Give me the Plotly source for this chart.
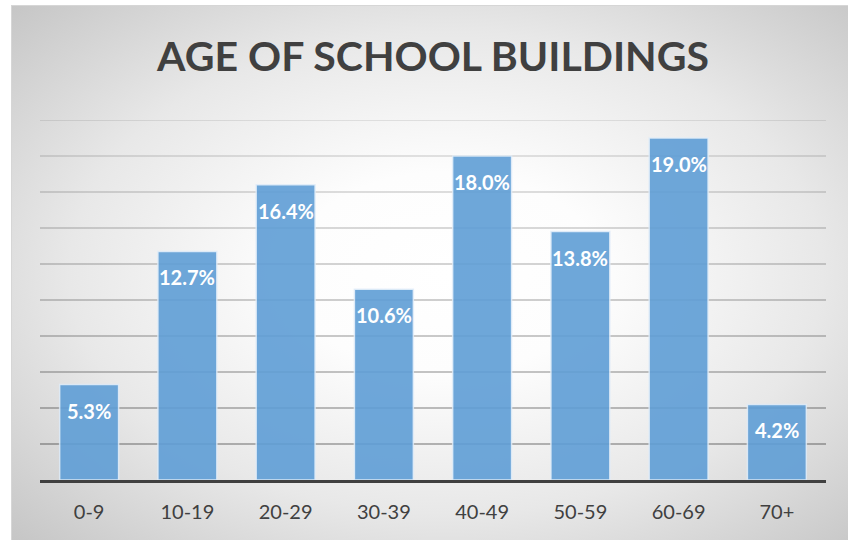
import base64
import plotly.graph_objects as go

# ---- data ----
categories = ["0-9", "10-19", "20-29", "30-39", "40-49", "50-59", "60-69", "70+"]
shares = [5.3, 12.7, 16.4, 10.6, 18.0, 13.8, 19.0, 4.2]
grid_values = [2, 4, 6, 8, 10, 12, 14, 16, 18, 20]
title_text = "AGE OF SCHOOL BUILDINGS"

W, H = 848, 540
L, R, T, B = 40, 22, 120, 60
plot_w = W - L - R
plot_h = H - T - B

# radial gradient background as SVG
bg_x0, bg_y0 = 11, 5
bg_w, bg_h = W - bg_x0, H - bg_y0
svg = f'''<svg xmlns="http://www.w3.org/2000/svg" width="{bg_w}" height="{bg_h}" viewBox="0 0 {bg_w} {bg_h}" preserveAspectRatio="none">
<defs><radialGradient id="g" cx="0.52" cy="0.5" r="0.75" fx="0.52" fy="0.5">
<stop offset="0" stop-color="#ffffff"/>
<stop offset="0.25" stop-color="#fdfdfd"/>
<stop offset="0.6" stop-color="#e8e8e8"/>
<stop offset="1" stop-color="#c2c2c2"/>
</radialGradient></defs>
<rect x="0" y="0" width="{bg_w}" height="{bg_h}" fill="url(#g)"/>
<rect x="0.5" y="0.5" width="{bg_w + 5}" height="{bg_h + 5}" fill="none" stroke="#d6d6d6" stroke-width="1"/>
</svg>'''
src = "data:image/svg+xml;base64," + base64.b64encode(svg.encode()).decode()

fig = go.Figure()
fig.add_trace(go.Bar(
    x=categories, y=shares,
    marker=dict(color="rgb(95,158,214)", opacity=0.9,
                line=dict(color="rgba(225,237,250,0.9)", width=1.5)),
    hoverinfo="skip",
))

# background image in paper coords
fig.add_layout_image(dict(
    source=src, xref="paper", yref="paper",
    x=(bg_x0 - L) / plot_w, y=(H - B - bg_y0) / plot_h,
    sizex=bg_w / plot_w, sizey=bg_h / plot_h,
    xanchor="left", yanchor="top", sizing="stretch", layer="below",
))

# gridlines, darker toward the bottom
n = len(grid_values)
for i, gv in enumerate(grid_values):
    alpha = 0.36 - 0.24 * i / (n - 1)
    fig.add_shape(type="line", xref="paper", yref="y", x0=0, x1=1, y0=gv, y1=gv,
                  line=dict(color=f"rgba(0,0,0,{alpha:.3f})", width=1.5), layer="below")

for c, v in zip(categories, shares):
    fig.add_annotation(x=c, y=v, text=f"{v:.1f}%", showarrow=False,
                       yanchor="middle", yshift=-26,
                       font=dict(family="Lato", size=20, color="white", weight="bold"))

fig.update_layout(
    width=W, height=H,
    margin=dict(l=L, r=R, t=T, b=B, pad=0),
    paper_bgcolor="white", plot_bgcolor="rgba(0,0,0,0)",
    showlegend=False,
    bargap=0.4,
    title=dict(text=title_text, x=0.5, xref="paper", xanchor="center",
               y=1 - 57 / H, yref="container", yanchor="middle",
               font=dict(family="Lato", size=41, color="#404040", weight="bold")),
    xaxis=dict(showline=True, linecolor="#404040", linewidth=3,
               ticks="outside", ticklen=12, tickcolor="rgba(0,0,0,0)",
               tickfont=dict(family="Lato", size=20, color="#404040"),
               showgrid=False, fixedrange=True),
    yaxis=dict(range=[0, 20], showticklabels=False, showgrid=False,
               zeroline=False, fixedrange=True),
)

fig.write_html("out.html", config={"displayModeBar": False},
               post_script="document.body.style.margin='0';document.body.style.overflow='hidden';")
